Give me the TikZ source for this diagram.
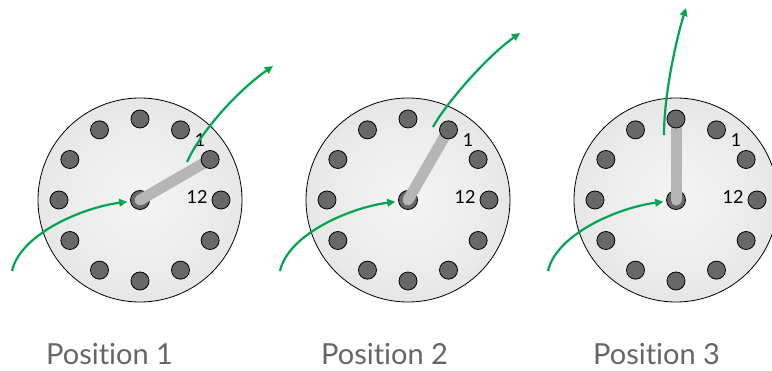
\documentclass[tikz,border=0pt]{standalone}
\usepackage{fontspec}
\setmainfont{Lato}[Ligatures={NoCommon}]
\usetikzlibrary{arrows.meta}
\definecolor{flow}{HTML}{00A551}
\definecolor{holefill}{HTML}{68686A}
\definecolor{barfill}{HTML}{B6B6B6}
\definecolor{txt}{HTML}{666666}
\pgfdeclareradialshading{diskshade}{\pgfpoint{0bp}{0bp}}{color(0bp)=(white!96!black);color(20bp)=(white!92!black);color(40bp)=(white!85!black);color(50bp)=(white!80!black);color(100bp)=(white!80!black)}
\tikzset{
  disk/.style={circle, draw=black, line width=0.8pt, shading=diskshade, minimum size=204pt, inner sep=0pt},
  holec/.style={circle, draw=black, line width=0.8pt, fill=holefill, minimum size=18pt, inner sep=0pt},
  hubc/.style={circle, draw=black, line width=0.8pt, fill=holefill, minimum size=19pt, inner sep=0pt},
  barline/.style={draw=barfill, line width=11pt, line cap=round},
  flowarrow/.style={draw=flow, line width=2.2pt, -{Triangle[length=8pt,width=7.5pt]}},
  numlbl/.style={font=\fontsize{18}{20}\selectfont, text=black, inner sep=0pt},
  poslbl/.style={font=\fontsize{29}{32}\selectfont, text=txt, inner sep=0pt, anchor=base west}
}
\begin{document}
\begin{tikzpicture}[x=1pt,y=-1pt]
\useasboundingbox (0,0) rectangle (772,371);
\foreach \n/\cx/\k/\lx in {1/140/1/46, 2/408/2/321, 3/676/3/593} {
  \node[disk] (disk\n) at (\cx,200) {};
  \foreach \j in {0,...,11} {
    \coordinate (c\n-\j) at ({\cx+81*cos(30*\j)},{200-81*sin(30*\j)});
  }
  \node[hubc] (hub\n) at (\cx,200) {};
  \draw[barline] (hub\n.center) -- (c\n-\k);
  \foreach \j in {0,...,11} {
    \node[holec] (h\n-\j) at (c\n-\j) {};
  }
  \node[numlbl] (one\n) at (\cx+60,140) {1};
  \node[numlbl] (twelve\n) at (\cx+57,197) {12};
  \node[poslbl] (pos\n) at (\lx,365) {Position \n};
  \coordinate (in\n) at (\cx-128,271);
  \draw[flowarrow, shorten >=3pt] (in\n) .. controls +(8,-36) and +(-60,8) .. (hub\n);
}
\coordinate (s1) at (187,162);
\coordinate (e1) at (273,66);
\draw[flowarrow] (s1) .. controls (200,133) and (236,92) .. (e1);
\coordinate (s2) at (433,127);
\coordinate (e2) at (520,33);
\draw[flowarrow] (s2) .. controls (445,105) and (485,58) .. (e2);
\coordinate (s3) at (664,135);
\coordinate (e3) at (686,8);
\draw[flowarrow] (s3) .. controls (664,95) and (676,40) .. (e3);
\end{tikzpicture}
\end{document}
